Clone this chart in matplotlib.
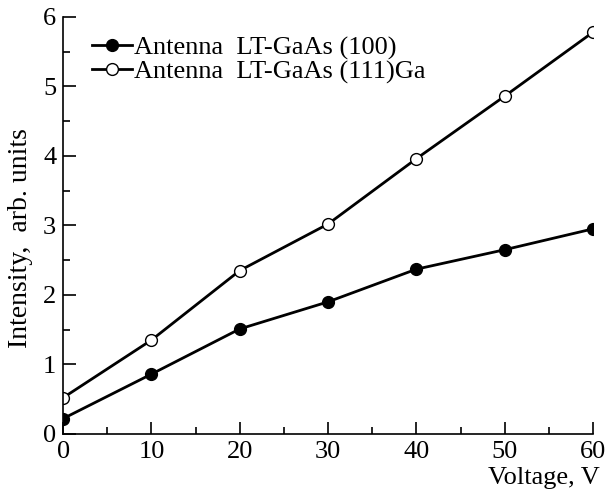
import numpy as np
import matplotlib.pyplot as plt
from matplotlib.ticker import MultipleLocator

plt.rcParams['font.family'] = ['Liberation Serif', 'DejaVu Serif']

voltage = np.array([0, 10, 20, 30, 40, 50, 60])
int_100 = np.array([0.22, 0.86, 1.51, 1.90, 2.37, 2.65, 2.95])
int_111 = np.array([0.52, 1.35, 2.35, 3.02, 3.96, 4.86, 5.78])
labels = ['Antenna  LT-GaAs (100)', 'Antenna  LT-GaAs (111)Ga']

fig = plt.figure(figsize=(6.07, 4.97), dpi=100)
ax = fig.add_axes([0.104, 0.127, 0.873, 0.839])

ax.plot(voltage, int_100, '-o', color='black', lw=2, ms=8.5,
        mfc='black', mec='black', label=labels[0])
ax.plot(voltage, int_111, '-o', color='black', lw=2, ms=8.5,
        mfc='white', mec='black', label=labels[1])

ax.set_xlim(0, 60)
ax.set_ylim(0, 6)
ax.xaxis.set_major_locator(MultipleLocator(10))
ax.xaxis.set_minor_locator(MultipleLocator(5))
ax.yaxis.set_major_locator(MultipleLocator(1))
ax.yaxis.set_minor_locator(MultipleLocator(0.5))
ax.tick_params(which='both', direction='in', labelsize=19, width=1.2)
ax.tick_params(which='major', length=9, pad=5)
ax.tick_params(which='minor', length=5)
ax.spines['top'].set_visible(False)
ax.spines['right'].set_visible(False)
for s in ['left', 'bottom']:
    ax.spines[s].set_linewidth(1.2)

ax.set_ylabel('Intensity,  arb. units', fontsize=20)
ax.yaxis.set_label_coords(-0.056, 0.47)
ax.set_xlabel('Voltage, V', fontsize=19)
ax.xaxis.set_label_coords(1.013, -0.08)
ax.xaxis.label.set_horizontalalignment('right')

ax.legend(loc='upper left', bbox_to_anchor=(0.035, 0.98), frameon=False,
          fontsize=19, handlelength=1.5, handletextpad=0.1,
          labelspacing=0.0, borderaxespad=0)

plt.savefig('out.png', dpi=100)
